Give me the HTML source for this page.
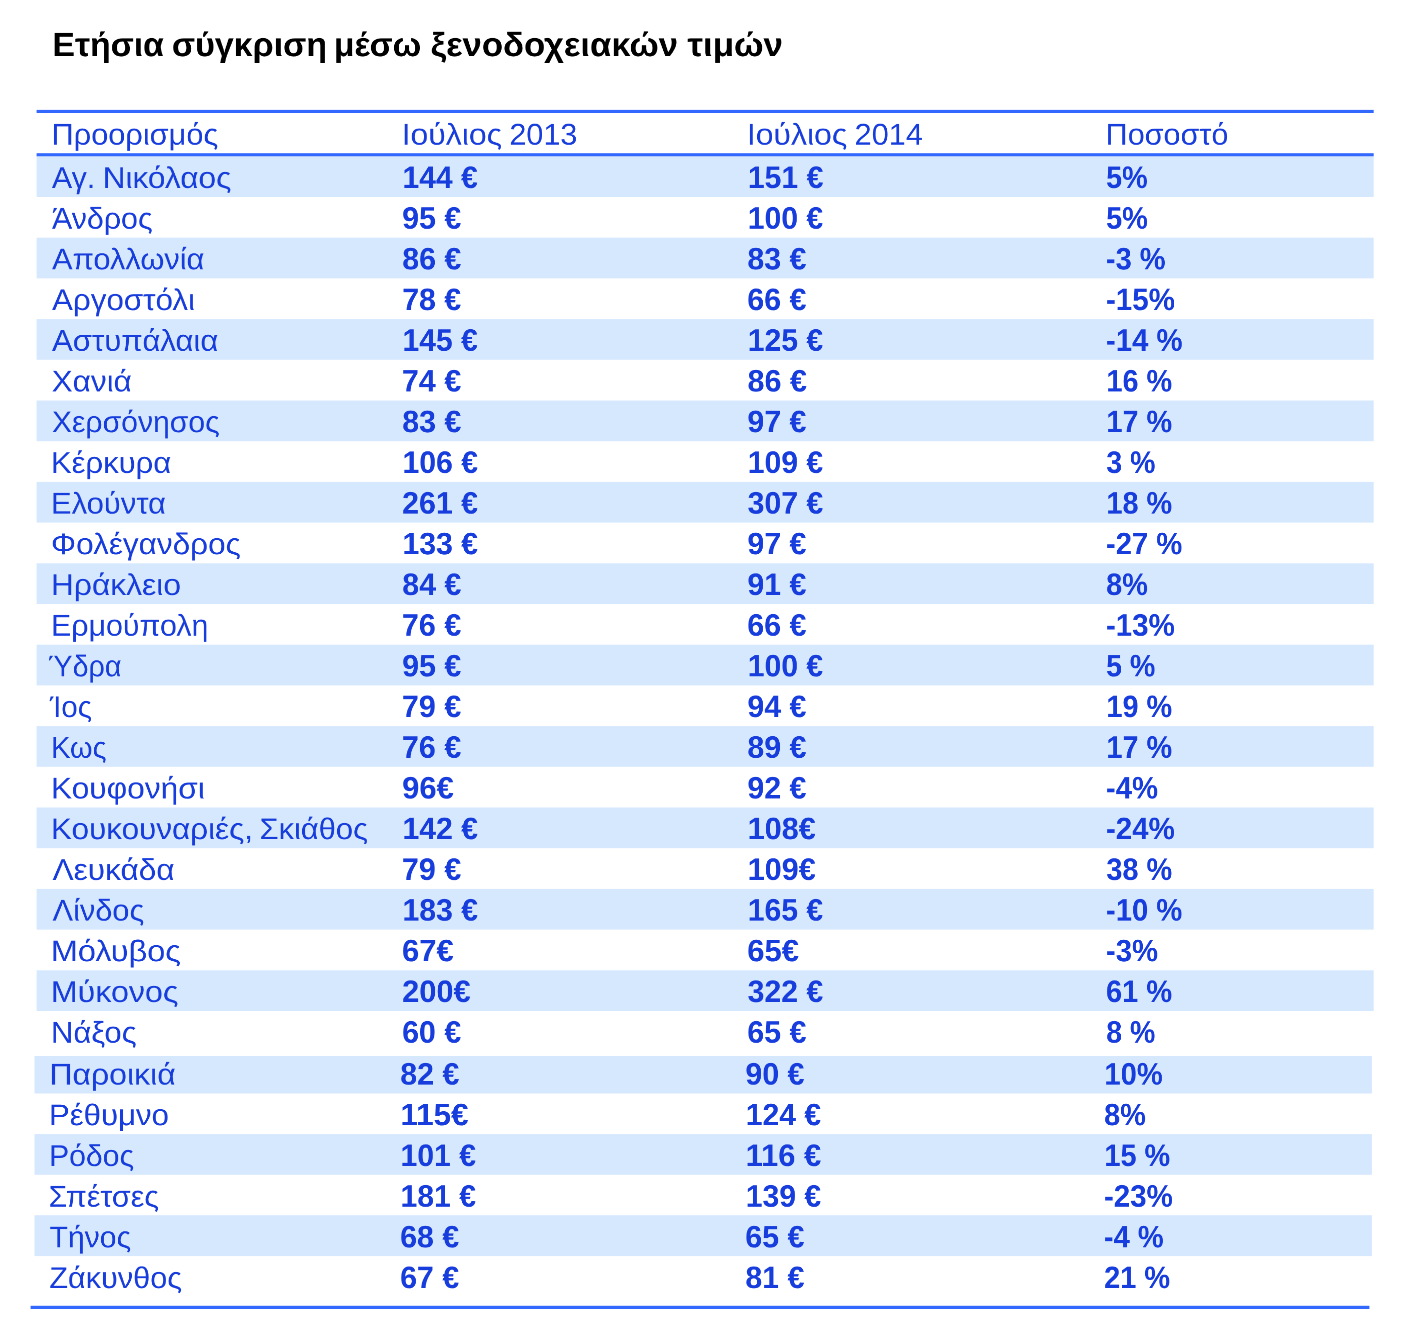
<!DOCTYPE html>
<html lang="el"><head><meta charset="utf-8"><title>Ετήσια σύγκριση μέσω ξενοδοχειακών τιμών</title>
<style>
html,body{margin:0;padding:0;background:#fff;}
body{width:1411px;height:1337px;position:relative;overflow:hidden;font-family:"Liberation Sans",sans-serif;}
svg{position:absolute;left:0;top:0;}
.t{position:absolute;left:0;top:0;white-space:nowrap;transform-origin:0 0;will-change:transform;text-rendering:geometricPrecision;color:#173ddc;font-size:60px;line-height:80px;height:80px;}
.h{font-weight:bold;font-size:62px;}
.ti{color:#000;font-weight:bold;font-size:67.2px;}
</style></head><body>
<svg width="1411" height="1337" viewBox="0 0 1411 1337">
<rect x="36.60" y="156.30" width="1337.10" height="40.70" fill="#d6e8fe"/>
<rect x="36.60" y="237.70" width="1337.10" height="40.70" fill="#d6e8fe"/>
<rect x="36.60" y="319.10" width="1337.10" height="40.70" fill="#d6e8fe"/>
<rect x="36.60" y="400.50" width="1337.10" height="40.70" fill="#d6e8fe"/>
<rect x="36.60" y="481.90" width="1337.10" height="40.70" fill="#d6e8fe"/>
<rect x="36.60" y="563.30" width="1337.10" height="40.70" fill="#d6e8fe"/>
<rect x="36.60" y="644.70" width="1337.10" height="40.70" fill="#d6e8fe"/>
<rect x="36.60" y="726.10" width="1337.10" height="40.70" fill="#d6e8fe"/>
<rect x="36.60" y="807.50" width="1337.10" height="40.70" fill="#d6e8fe"/>
<rect x="36.60" y="888.90" width="1337.10" height="40.70" fill="#d6e8fe"/>
<rect x="36.60" y="970.30" width="1337.10" height="40.70" fill="#d6e8fe"/>
<rect x="34.50" y="1056.00" width="1337.40" height="37.50" fill="#d6e8fe"/>
<rect x="34.50" y="1134.10" width="1337.40" height="40.70" fill="#d6e8fe"/>
<rect x="34.50" y="1215.20" width="1337.40" height="40.90" fill="#d6e8fe"/>
<rect x="36.60" y="109.90" width="1337.10" height="3.10" fill="#3368fe"/>
<rect x="36.60" y="153.20" width="1337.10" height="3.10" fill="#3368fe"/>
<rect x="30.60" y="1305.80" width="1338.80" height="3.20" fill="#3368fe"/>
</svg>
<div class="t ti" style="transform:translate(52px,25.10px) scale(0.5025,0.5000);padding-left:0.863px">Ετήσια</div>
<div class="t ti" style="transform:translate(171px,25.10px) scale(0.5053,0.5000);padding-left:1.703px">σύγκριση</div>
<div class="t ti" style="transform:translate(333px,25.10px) scale(0.5017,0.5000);padding-left:1.657px">μέσω</div>
<div class="t ti" style="transform:translate(430px,25.10px) scale(0.5160,0.5000);padding-left:1.238px">ξενοδοχειακών</div>
<div class="t ti" style="transform:translate(687px,25.10px) scale(0.5194,0.5000);padding-left:0.748px">τιμών</div>
<div class="t" style="transform:translate(51px,114.60px) scale(0.5122,0.5000);padding-left:0.936px">Προορισμός</div>
<div class="t" style="transform:translate(401px,114.60px) scale(0.5326,0.5000);padding-left:1.218px">Ιούλιος</div>
<div class="t" style="transform:translate(509px,114.60px) scale(0.5092,0.5000);padding-left:0.712px">2013</div>
<div class="t" style="transform:translate(746px,114.60px) scale(0.5326,0.5000);padding-left:1.593px">Ιούλιος</div>
<div class="t" style="transform:translate(854px,114.60px) scale(0.5118,0.5000);padding-left:1.084px">2014</div>
<div class="t" style="transform:translate(1105px,114.60px) scale(0.5085,0.5000);padding-left:1.372px">Ποσοστό</div>
<div class="t" style="transform:translate(51px,157.95px) scale(0.5060,0.5000);padding-left:1.825px">Αγ.</div>
<div class="t" style="transform:translate(102px,157.95px) scale(0.5270,0.5000);padding-left:1.150px">Νικόλαος</div>
<div class="t h" style="transform:translate(402px,157.95px) scale(0.4849,0.5000);padding-left:1.043px">144 €</div>
<div class="t h" style="transform:translate(747px,157.95px) scale(0.4876,0.5000);padding-left:1.632px">151 €</div>
<div class="t h" style="transform:translate(1106px,157.95px) scale(0.4642,0.5000);padding-left:0.138px">5%</div>
<div class="t" style="transform:translate(52px,198.65px) scale(0.5056,0.5000);padding-left:0.047px">Άνδρος</div>
<div class="t h" style="transform:translate(402px,198.65px) scale(0.4897,0.5000);padding-left:0.250px">95 €</div>
<div class="t h" style="transform:translate(747px,198.65px) scale(0.4863,0.5000);padding-left:1.441px">100 €</div>
<div class="t h" style="transform:translate(1106px,198.65px) scale(0.4667,0.5000);padding-left:0.126px">5%</div>
<div class="t" style="transform:translate(52px,239.35px) scale(0.5135,0.5000);padding-left:0.040px">Απολλωνία</div>
<div class="t h" style="transform:translate(402px,239.35px) scale(0.4889,0.5000);padding-left:0.455px">86 €</div>
<div class="t h" style="transform:translate(747px,239.35px) scale(0.4889,0.5000);padding-left:0.864px">83 €</div>
<div class="t h" style="transform:translate(1105px,239.35px) scale(0.4665,0.5000);padding-left:2.063px">-3 %</div>
<div class="t" style="transform:translate(52px,280.05px) scale(0.5221,0.5000);padding-left:0.034px">Αργοστόλι</div>
<div class="t h" style="transform:translate(402px,280.05px) scale(0.4891,0.5000);padding-left:0.392px">78 €</div>
<div class="t h" style="transform:translate(747px,280.05px) scale(0.4903,0.5000);padding-left:0.561px">66 €</div>
<div class="t h" style="transform:translate(1105px,280.05px) scale(0.4775,0.5000);padding-left:1.959px">-15%</div>
<div class="t" style="transform:translate(52px,320.75px) scale(0.5188,0.5000);padding-left:0.036px">Αστυπάλαια</div>
<div class="t h" style="transform:translate(402px,320.75px) scale(0.4849,0.5000);padding-left:1.043px">145 €</div>
<div class="t h" style="transform:translate(747px,320.75px) scale(0.4863,0.5000);padding-left:1.441px">125 €</div>
<div class="t h" style="transform:translate(1105px,320.75px) scale(0.4728,0.5000);padding-left:2.002px">-14 %</div>
<div class="t" style="transform:translate(51px,361.45px) scale(0.5247,0.5000);padding-left:1.308px">Χανιά</div>
<div class="t h" style="transform:translate(401px,361.45px) scale(0.4919,0.5000);padding-left:1.798px">74 €</div>
<div class="t h" style="transform:translate(747px,361.45px) scale(0.4923,0.5000);padding-left:1.047px">86 €</div>
<div class="t h" style="transform:translate(1106px,361.45px) scale(0.4645,0.5000);padding-left:1.046px">16 %</div>
<div class="t" style="transform:translate(51px,402.15px) scale(0.5020,0.5000);padding-left:1.845px">Χερσόνησος</div>
<div class="t h" style="transform:translate(402px,402.15px) scale(0.4891,0.5000);padding-left:0.453px">83 €</div>
<div class="t h" style="transform:translate(747px,402.15px) scale(0.4899,0.5000);padding-left:0.657px">97 €</div>
<div class="t h" style="transform:translate(1106px,402.15px) scale(0.4645,0.5000);padding-left:1.046px">17 %</div>
<div class="t" style="transform:translate(50px,442.85px) scale(0.5171,0.5000);padding-left:1.847px">Κέρκυρα</div>
<div class="t h" style="transform:translate(402px,442.85px) scale(0.4863,0.5000);padding-left:1.029px">106 €</div>
<div class="t h" style="transform:translate(747px,442.85px) scale(0.4863,0.5000);padding-left:1.441px">109 €</div>
<div class="t h" style="transform:translate(1106px,442.85px) scale(0.4584,0.5000);padding-left:0.776px">3 %</div>
<div class="t" style="transform:translate(50px,483.55px) scale(0.5159,0.5000);padding-left:1.862px">Ελούντα</div>
<div class="t h" style="transform:translate(402px,483.55px) scale(0.4887,0.5000);padding-left:0.279px">261 €</div>
<div class="t h" style="transform:translate(747px,483.55px) scale(0.4869,0.5000);padding-left:1.252px">307 €</div>
<div class="t h" style="transform:translate(1106px,483.55px) scale(0.4645,0.5000);padding-left:1.046px">18 %</div>
<div class="t" style="transform:translate(50px,524.25px) scale(0.5252,0.5000);padding-left:1.873px">Φολέγανδρος</div>
<div class="t h" style="transform:translate(402px,524.25px) scale(0.4863,0.5000);padding-left:1.029px">133 €</div>
<div class="t h" style="transform:translate(747px,524.25px) scale(0.4899,0.5000);padding-left:0.657px">97 €</div>
<div class="t h" style="transform:translate(1105px,524.25px) scale(0.4715,0.5000);padding-left:2.014px">-27 %</div>
<div class="t" style="transform:translate(50px,564.95px) scale(0.5295,0.5000);padding-left:1.688px">Ηράκλειο</div>
<div class="t h" style="transform:translate(402px,564.95px) scale(0.4891,0.5000);padding-left:0.453px">84 €</div>
<div class="t h" style="transform:translate(747px,564.95px) scale(0.4899,0.5000);padding-left:0.657px">91 €</div>
<div class="t h" style="transform:translate(1106px,564.95px) scale(0.4654,0.5000);padding-left:0.363px">8%</div>
<div class="t" style="transform:translate(51px,605.65px) scale(0.5058,0.5000);padding-left:0.021px">Ερμούπολη</div>
<div class="t h" style="transform:translate(401px,605.65px) scale(0.4919,0.5000);padding-left:1.798px">76 €</div>
<div class="t h" style="transform:translate(747px,605.65px) scale(0.4903,0.5000);padding-left:0.561px">66 €</div>
<div class="t h" style="transform:translate(1105px,605.65px) scale(0.4762,0.5000);padding-left:1.970px">-13%</div>
<div class="t" style="transform:translate(47px,646.35px) scale(0.4783,0.5000);padding-left:2.075px">Ύδρα</div>
<div class="t h" style="transform:translate(402px,646.35px) scale(0.4899,0.5000);padding-left:0.249px">95 €</div>
<div class="t h" style="transform:translate(747px,646.35px) scale(0.4863,0.5000);padding-left:1.441px">100 €</div>
<div class="t h" style="transform:translate(1106px,646.35px) scale(0.4611,0.5000);padding-left:0.154px">5 %</div>
<div class="t" style="transform:translate(50px,687.05px) scale(0.4905,0.5000);padding-left:0.067px">Ίος</div>
<div class="t h" style="transform:translate(401px,687.05px) scale(0.4919,0.5000);padding-left:1.798px">79 €</div>
<div class="t h" style="transform:translate(747px,687.05px) scale(0.4899,0.5000);padding-left:0.657px">94 €</div>
<div class="t h" style="transform:translate(1106px,687.05px) scale(0.4645,0.5000);padding-left:1.046px">19 %</div>
<div class="t" style="transform:translate(51px,727.75px) scale(0.4808,0.5000);padding-left:0.278px">Κως</div>
<div class="t h" style="transform:translate(401px,727.75px) scale(0.4919,0.5000);padding-left:1.798px">76 €</div>
<div class="t h" style="transform:translate(747px,727.75px) scale(0.4891,0.5000);padding-left:0.862px">89 €</div>
<div class="t h" style="transform:translate(1106px,727.75px) scale(0.4645,0.5000);padding-left:1.046px">17 %</div>
<div class="t" style="transform:translate(50px,768.45px) scale(0.5282,0.5000);padding-left:1.705px">Κουφονήσι</div>
<div class="t h" style="transform:translate(402px,768.45px) scale(0.4993,0.5000);padding-left:0.203px">96€</div>
<div class="t h" style="transform:translate(747px,768.45px) scale(0.4899,0.5000);padding-left:0.657px">92 €</div>
<div class="t h" style="transform:translate(1105px,768.45px) scale(0.4718,0.5000);padding-left:2.012px">-4%</div>
<div class="t" style="transform:translate(50px,809.15px) scale(0.5244,0.5000);padding-left:1.753px">Κουκουναριές,</div>
<div class="t" style="transform:translate(259px,809.15px) scale(0.5147,0.5000);padding-left:0.888px">Σκιάθος</div>
<div class="t h" style="transform:translate(402px,809.15px) scale(0.4863,0.5000);padding-left:1.029px">142 €</div>
<div class="t h" style="transform:translate(747px,809.15px) scale(0.4938,0.5000);padding-left:1.359px">108€</div>
<div class="t h" style="transform:translate(1105px,809.15px) scale(0.4762,0.5000);padding-left:1.970px">-24%</div>
<div class="t" style="transform:translate(52px,849.85px) scale(0.5269,0.5000);padding-left:1.005px">Λευκάδα</div>
<div class="t h" style="transform:translate(401px,849.85px) scale(0.4919,0.5000);padding-left:1.798px">79 €</div>
<div class="t h" style="transform:translate(747px,849.85px) scale(0.4938,0.5000);padding-left:1.359px">109€</div>
<div class="t h" style="transform:translate(1106px,849.85px) scale(0.4655,0.5000);padding-left:0.740px">38 %</div>
<div class="t" style="transform:translate(52px,890.55px) scale(0.5120,0.5000);padding-left:1.049px">Λίνδος</div>
<div class="t h" style="transform:translate(402px,890.55px) scale(0.4863,0.5000);padding-left:1.029px">183 €</div>
<div class="t h" style="transform:translate(747px,890.55px) scale(0.4863,0.5000);padding-left:1.441px">165 €</div>
<div class="t h" style="transform:translate(1105px,890.55px) scale(0.4715,0.5000);padding-left:2.014px">-10 %</div>
<div class="t" style="transform:translate(50px,931.25px) scale(0.5407,0.5000);padding-left:1.552px">Μόλυβος</div>
<div class="t h" style="transform:translate(402px,931.25px) scale(0.4998,0.5000);padding-left:0.107px">67€</div>
<div class="t h" style="transform:translate(747px,931.25px) scale(0.4998,0.5000);padding-left:0.507px">65€</div>
<div class="t h" style="transform:translate(1105px,931.25px) scale(0.4718,0.5000);padding-left:2.012px">-3%</div>
<div class="t" style="transform:translate(50px,971.95px) scale(0.5363,0.5000);padding-left:1.605px">Μύκονος</div>
<div class="t h" style="transform:translate(402px,971.95px) scale(0.4964,0.5000);padding-left:0.241px">200€</div>
<div class="t h" style="transform:translate(747px,971.95px) scale(0.4869,0.5000);padding-left:1.252px">322 €</div>
<div class="t h" style="transform:translate(1106px,971.95px) scale(0.4677,0.5000);padding-left:0.058px">61 %</div>
<div class="t" style="transform:translate(50px,1012.65px) scale(0.5175,0.5000);padding-left:1.842px">Νάξος</div>
<div class="t h" style="transform:translate(402px,1012.65px) scale(0.4903,0.5000);padding-left:0.153px">60 €</div>
<div class="t h" style="transform:translate(747px,1012.65px) scale(0.4903,0.5000);padding-left:0.561px">65 €</div>
<div class="t h" style="transform:translate(1106px,1012.65px) scale(0.4601,0.5000);padding-left:0.391px">8 %</div>
<div class="t" style="transform:translate(49px,1054.55px) scale(0.5332,0.5000);padding-left:0.705px">Παροικιά</div>
<div class="t h" style="transform:translate(400px,1054.55px) scale(0.4891,0.5000);padding-left:0.453px">82 €</div>
<div class="t h" style="transform:translate(745px,1054.55px) scale(0.4899,0.5000);padding-left:0.657px">90 €</div>
<div class="t h" style="transform:translate(1104px,1054.55px) scale(0.4689,0.5000);padding-left:0.999px">10%</div>
<div class="t" style="transform:translate(48px,1095.25px) scale(0.5197,0.5000);padding-left:1.813px">Ρέθυμνο</div>
<div class="t h" style="transform:translate(400px,1095.25px) scale(0.5067,0.5000);padding-left:0.831px">115€</div>
<div class="t h" style="transform:translate(745px,1095.25px) scale(0.4863,0.5000);padding-left:1.441px">124 €</div>
<div class="t h" style="transform:translate(1104px,1095.25px) scale(0.4654,0.5000);padding-left:0.363px">8%</div>
<div class="t" style="transform:translate(49px,1135.95px) scale(0.5026,0.5000);padding-left:0.053px">Ρόδος</div>
<div class="t h" style="transform:translate(400px,1135.95px) scale(0.4863,0.5000);padding-left:1.029px">101 €</div>
<div class="t h" style="transform:translate(745px,1135.95px) scale(0.4983,0.5000);padding-left:1.311px">116 €</div>
<div class="t h" style="transform:translate(1104px,1135.95px) scale(0.4645,0.5000);padding-left:1.046px">15 %</div>
<div class="t" style="transform:translate(48px,1176.65px) scale(0.5060,0.5000);padding-left:1.156px">Σπέτσες</div>
<div class="t h" style="transform:translate(400px,1176.65px) scale(0.4863,0.5000);padding-left:1.029px">181 €</div>
<div class="t h" style="transform:translate(745px,1176.65px) scale(0.4863,0.5000);padding-left:1.441px">139 €</div>
<div class="t h" style="transform:translate(1103px,1176.65px) scale(0.4762,0.5000);padding-left:1.970px">-23%</div>
<div class="t" style="transform:translate(49px,1217.35px) scale(0.5020,0.5000);padding-left:1.030px">Τήνος</div>
<div class="t h" style="transform:translate(400px,1217.35px) scale(0.4903,0.5000);padding-left:0.153px">68 €</div>
<div class="t h" style="transform:translate(745px,1217.35px) scale(0.4903,0.5000);padding-left:0.561px">65 €</div>
<div class="t h" style="transform:translate(1103px,1217.35px) scale(0.4674,0.5000);padding-left:2.053px">-4 %</div>
<div class="t" style="transform:translate(49px,1258.05px) scale(0.5111,0.5000);padding-left:0.442px">Ζάκυνθος</div>
<div class="t h" style="transform:translate(400px,1258.05px) scale(0.4903,0.5000);padding-left:0.153px">67 €</div>
<div class="t h" style="transform:translate(745px,1258.05px) scale(0.4891,0.5000);padding-left:0.862px">81 €</div>
<div class="t h" style="transform:translate(1104px,1258.05px) scale(0.4673,0.5000);padding-left:0.177px">21 %</div>
</body></html>
